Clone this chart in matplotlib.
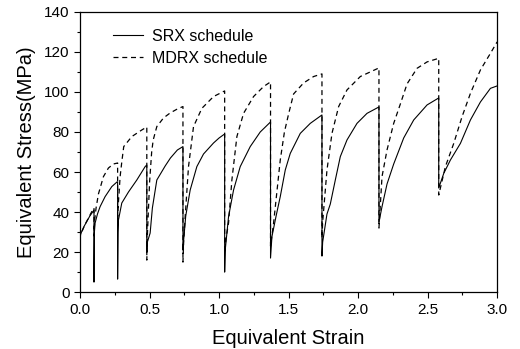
import matplotlib.pyplot as plt
from matplotlib.ticker import MultipleLocator

plt.rcParams['font.family'] = ['Liberation Sans', 'DejaVu Sans']

# flow curves of the two rolling schedules, one pass after another;
# a repeated strain value is the unloading drop between passes
srx_strain = [0.0, 0.0, 0.01, 0.03, 0.05, 0.07, 0.09, 0.10, 0.10,
              0.103, 0.108, 0.125, 0.144, 0.18, 0.228, 0.265, 0.27, 0.27,
              0.273, 0.276, 0.30, 0.348, 0.408, 0.468, 0.48, 0.48,
              0.484, 0.504, 0.52, 0.552, 0.612, 0.65, 0.70, 0.74, 0.74,
              0.745, 0.76, 0.792, 0.84, 0.888, 0.96, 1.0, 1.04, 1.04,
              1.044, 1.068, 1.104, 1.152, 1.224, 1.296, 1.37, 1.37,
              1.38, 1.41, 1.44, 1.476, 1.512, 1.584, 1.656, 1.74, 1.74,
              1.745, 1.776, 1.80, 1.836, 1.872, 1.92, 1.992, 2.064, 2.15, 2.15,
              2.172, 2.208, 2.256, 2.328, 2.40, 2.496, 2.58, 2.58,
              2.616, 2.664, 2.736, 2.808, 2.88, 2.952, 3.0]
srx_stress = [0, 28, 30, 33, 35.5, 38, 40, 41, 5,
              30, 34.5, 39, 42.7, 47.7, 52.7, 55, 55, 6.5,
              30, 36, 44.5, 50, 56, 62.7, 63.5, 21,
              25, 29.5, 42, 56, 63, 67, 71, 72.7, 21,
              26, 38, 51, 62.7, 69, 74.5, 77, 79, 10,
              21, 37.7, 51, 62.7, 72.7, 80, 85, 17,
              27.7, 38, 47.7, 61, 69.3, 79.3, 84.3, 88.5, 18,
              25, 39, 44, 56, 67.7, 76, 84.3, 89.3, 92.5, 35,
              42.7, 54, 64, 77, 86, 93.5, 97, 52,
              59.3, 66, 74.3, 86, 95, 101.8, 103]

mdrx_strain = [0.0, 0.0, 0.03, 0.06, 0.09, 0.10, 0.10,
               0.105, 0.115, 0.132, 0.168, 0.204, 0.24, 0.27, 0.27,
               0.276, 0.288, 0.30, 0.314, 0.372, 0.444, 0.48, 0.48,
               0.485, 0.50, 0.515, 0.526, 0.552, 0.60, 0.648, 0.70, 0.74, 0.74,
               0.745, 0.756, 0.78, 0.816, 0.876, 0.96, 1.04, 1.04,
               1.05, 1.068, 1.092, 1.128, 1.176, 1.248, 1.32, 1.37, 1.37,
               1.392, 1.44, 1.47, 1.50, 1.536, 1.608, 1.68, 1.74, 1.74,
               1.745, 1.776, 1.812, 1.86, 1.92, 2.016, 2.15, 2.15,
               2.172, 2.208, 2.256, 2.304, 2.352, 2.424, 2.496, 2.58, 2.58,
               2.628, 2.688, 2.748, 2.808, 2.88, 2.952, 3.0]
mdrx_stress = [0, 28, 33, 37, 41, 42, 28,
               36, 42, 49, 57.7, 62, 64, 64.5, 36,
               45, 57.7, 65, 72.7, 77.7, 81, 82.5, 16,
               30, 55, 70, 76, 82.7, 87, 89.5, 91.5, 92.7, 15,
               25, 37.7, 62.7, 82.7, 91.8, 97.7, 100.5, 19.5,
               27, 34.5, 56, 77.7, 89.3, 97.7, 102.7, 105, 23,
               34.5, 66, 80, 89, 99, 104.5, 107.7, 109, 27,
               35, 61, 79.3, 92.7, 101, 107.7, 112, 32,
               57.7, 71, 84.3, 94, 104, 111.8, 115, 116.8, 48.5,
               62.7, 74.3, 87.7, 99.3, 111, 119.3, 125]

fig = plt.figure(figsize=(5.2, 3.49), dpi=100)
ax = fig.add_axes([0.154, 0.163, 0.802, 0.803])

ax.plot(srx_strain, srx_stress, color='black', lw=0.8, label='SRX schedule')
ax.plot(mdrx_strain, mdrx_stress, color='black', lw=0.9, dashes=(4, 3),
        label='MDRX schedule')

ax.set_xlim(0, 3.0)
ax.set_ylim(0, 140)
ax.xaxis.set_major_locator(MultipleLocator(0.5))
ax.xaxis.set_minor_locator(MultipleLocator(0.25))
ax.yaxis.set_major_locator(MultipleLocator(20))
ax.yaxis.set_minor_locator(MultipleLocator(10))
ax.tick_params(which='both', direction='out', labelsize=11, width=0.8)
ax.tick_params(which='major', length=4)
ax.tick_params(which='minor', length=2.5)
for sp in ax.spines.values():
    sp.set_linewidth(0.9)

ax.set_xlabel('Equivalent Strain', fontsize=14.5, labelpad=9)
ax.set_ylabel('Equivalent Stress(MPa)', fontsize=14.5, labelpad=6)

ax.legend(loc='upper left', bbox_to_anchor=(0.079, 0.94), frameon=False,
          borderpad=0, borderaxespad=0, fontsize=11.5, handlelength=1.9,
          handletextpad=0.55, labelspacing=0.45)

fig.savefig('out.png', dpi=100)
